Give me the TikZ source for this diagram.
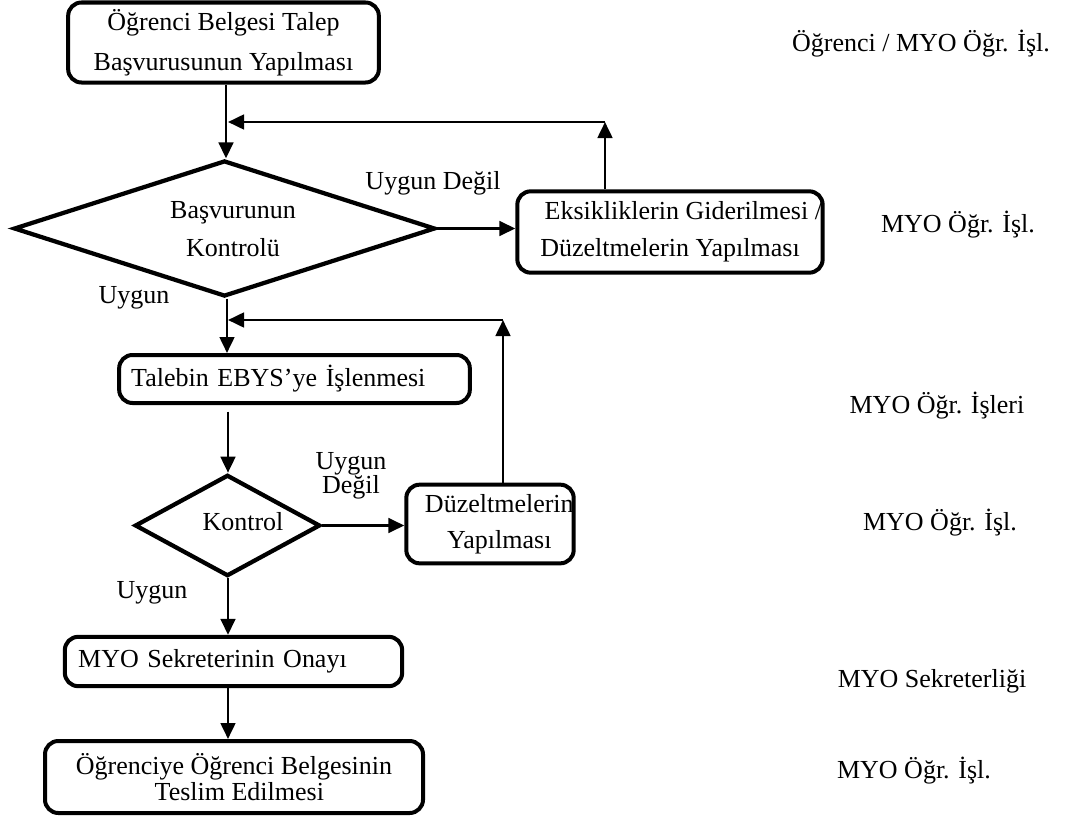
\documentclass[tikz,border=0pt]{standalone}
\usepackage{fontspec}
\setmainfont{Liberation Serif}
\usetikzlibrary{shapes.geometric,arrows.meta}
\begin{document}
\begin{tikzpicture}[x=0.75pt,y=-0.75pt,
  every node/.style={font=\fontsize{19.5}{23}\selectfont},
  box/.style={draw,line width=3pt,rounded corners=10pt,align=center,inner sep=0pt},
  dia/.style={draw,line width=3.2pt,shape=diamond,inner sep=0pt},
  txt/.style={inner sep=0pt,align=center},
  arr/.style={line width=2pt,-{Triangle[length=12pt,width=11pt]}},
  ln/.style={line width=2pt}]
\useasboundingbox (0,0) rectangle (1072,821);
% boxes
\node[box,minimum width=233pt,minimum height=60pt] (b1) at (223.5,42.5)
  {Öğrenci Belgesi Talep\\[7pt]Başvurusunun Yapılması};
\node[dia,minimum width=316pt,minimum height=102pt] (d1) at (224.5,228.5) {};
\node[txt] (d1t) at (233,229) {Başvurunun\\[5pt]Kontrolü};
\node[box,minimum width=229pt,minimum height=61pt] (b2) at (670,232)
  {\hspace*{20pt}Eksikliklerin Giderilmesi /\\[5pt]Düzeltmelerin Yapılması};
\node[box,minimum width=263pt,minimum height=36pt,text width=245pt,align=left,inner sep=0pt] (b3) at (294.5,379)
  {Talebin EBYS’ye İşlenmesi};
\node[dia,minimum width=139pt,minimum height=76pt] (d2) at (227.5,525.5) {};
\node[txt] (d2t) at (243,522) {Kontrol};
\node[box,minimum width=109.5pt,minimum height=59pt] (b4) at (490,524)
  {\hspace*{14pt}Düzeltmelerin\\[4pt]\hspace*{14pt}Yapılması};
\node[box,minimum width=253pt,minimum height=37pt,text width=233pt,align=left] (b5) at (233.5,661.5)
  {MYO Sekreterinin Onayı};
\node[box,minimum width=283.5pt,minimum height=54pt] (b6) at (234,777)
  {Öğrenciye Öğrenci Belgesinin\\[-3pt]\hspace*{8pt}Teslim Edilmesi};
% labels
\node[txt] (l1) at (433,183) {Uygun Değil};
\node[txt] (l2) at (134,298) {Uygun};
\node[txt] (l3) at (351,476) {Uygun\\[-5pt]Değil};
\node[txt] (l4) at (152,593) {Uygun};
% right column
\node[txt] (r1) at (921,44) {Öğrenci / MYO Öğr. İşl.};
\node[txt] (r2) at (958,225) {MYO Öğr. İşl.};
\node[txt] (r3) at (937,406) {MYO Öğr. İşleri};
\node[txt] (r4) at (940,523) {MYO Öğr. İşl.};
\node[txt] (r5) at (932,681) {MYO Sekreterliği};
\node[txt] (r6) at (914,771) {MYO Öğr. İşl.};
% coordinates
\coordinate (c1) at (605,122);
\coordinate (c1e) at (228,122);
\coordinate (c2) at (503,320);
\coordinate (c2e) at (228,320);
% connectors
\draw[arr] (b1.south -| 226,0) -- (d1.north -| 226,0);
\draw[arr] (d1.east) -- (b2.west |- d1.east);
\draw[arr] (b2.north -| c1) -- (c1);
\draw[arr] (c1) -- (c1e);
\draw[arr] (d1.south -| 227,0) -- (b3.north -| 227,0);
\draw[arr] (b4.north -| c2) -- (c2);
\draw[arr] (c2) -- (c2e);
\draw[arr] ([yshift=-5pt]b3.south -| 228,0) -- (d2.north -| 228,0);
\draw[arr] (d2.east) -- (b4.west |- d2.east);
\draw[arr] (d2.south -| 228,0) -- (b5.north -| 228,0);
\draw[arr] (b5.south -| 228,0) -- (b6.north -| 228,0);
\end{tikzpicture}
\end{document}
